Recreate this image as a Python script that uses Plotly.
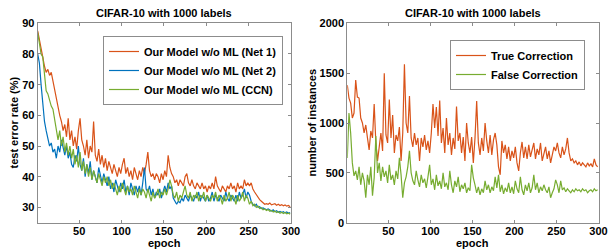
import plotly.graph_objects as go

# ---------------- data ----------------
epochs = list(range(1, 301, 2))

net1_err = [87.5, 85, 82, 79, 76, 74, 75, 73, 74, 71, 68, 65, 62, 60, 58, 55, 57, 53, 59, 52,
            55, 50, 53, 49, 55, 59, 52, 50, 47, 52, 46, 50, 48, 58, 47, 45, 49, 44, 47, 43,
            46, 42, 45, 43, 41, 44, 42, 40, 43, 41, 44, 46, 41, 43, 40, 42, 39, 43, 41, 39,
            42, 40, 43, 41, 44, 48, 42, 40, 41, 39, 41, 40, 38, 41, 39, 42, 40, 47, 43, 41,
            40, 38, 39, 37, 39, 38, 37, 40, 41, 38, 37, 39, 37, 36, 38, 37, 36, 38, 36, 37,
            35, 37, 36, 38, 36, 40, 37, 36, 35, 37, 36, 35, 37, 36, 38, 36, 37, 35, 38, 36,
            37, 36, 39, 37, 38, 37, 38, 36, 35, 34, 33, 32.5, 32, 31.5, 31, 31.2, 31, 31.4, 30.8, 31,
            31.2, 30.7, 31, 30.6, 30.9, 30.5, 30.8, 30.4, 30.6, 30.2]

net2_err = [80, 77, 70, 64, 58, 55, 52, 50, 51, 48, 49, 46, 50, 48, 52, 49, 47, 50, 46, 48,
            44, 43, 47, 45, 50, 44, 42, 46, 40, 44, 41, 45, 39, 42, 40, 38, 43, 40, 38, 41,
            39, 37, 40, 36, 38, 35, 39, 37, 35, 38, 36, 39, 35, 37, 34, 38, 36, 34, 37, 35,
            37, 34, 38, 43, 36, 35, 37, 34, 36, 33, 35, 34, 36, 33, 35, 37, 35, 38, 36, 37,
            33, 32, 31, 32, 31.5, 33, 32, 34, 33, 32, 34, 33, 32, 34, 33, 35, 32, 34, 33, 32,
            34, 32, 33, 35, 32, 34, 33, 32, 34, 33, 32, 35, 33, 32, 34, 33, 32, 34, 32, 35,
            33, 34, 36, 33, 35, 34, 32, 31, 30.5, 31, 30, 30.2, 29.6, 29.8, 29.4, 29.2, 29.5, 29, 28.8, 29.2,
            28.6, 28.9, 28.4, 28.7, 28.3, 28.6, 28.2, 28.5, 28.1, 28.3]

ccn_err = [87, 84, 80, 79, 73, 68, 67, 65, 63, 62, 59, 55, 52, 55, 50, 53, 48, 51, 47, 50,
           46, 49, 44, 47, 43, 48, 42, 45, 41, 44, 40, 43, 39, 42, 40, 38, 41, 39, 37, 40,
           38, 40, 37, 39, 36, 38, 36, 34, 37, 35, 38, 36, 34, 37, 35, 36, 34, 37, 35, 33,
           36, 34, 36, 35, 33, 36, 34, 32, 35, 33, 34, 36, 33, 35, 34, 36, 34, 36, 39, 37,
           34, 33, 35, 32, 34, 33, 35, 37, 34, 33, 35, 32, 34, 33, 35, 32, 34, 33, 35, 32,
           34, 33, 32, 34, 33, 35, 32, 34, 33, 31, 34, 32, 33, 35, 32, 34, 33, 31, 34, 32,
           33, 35, 32, 34, 33, 31, 32, 30.5, 31, 30, 30.4, 29.6, 29.9, 29.2, 29.5, 29, 29.3, 28.7, 29, 28.5,
           28.8, 28.3, 28.6, 28.1, 28.4, 28, 28.3, 27.9, 28.1, 27.8]

true_corr = [1380, 1250, 1200, 1050, 1100, 1430, 1260, 1250, 1050, 1000, 900, 980, 850, 730, 920, 850, 1190, 800, 620, 780,
             900, 720, 1500, 880, 800, 1235, 850, 1080, 700, 880, 820, 960, 620, 900, 1590, 1000, 900, 1270, 850, 760,
             900, 780, 850, 620, 850, 760, 880, 730, 820, 700, 900, 1190, 950, 1160, 870, 1225, 800, 950, 700, 1050,
             780, 900, 680, 850, 740, 1165, 820, 900, 700, 860, 620, 1000, 800, 700, 860, 600, 850, 1220, 800, 680,
             850, 720, 1000, 820, 700, 880, 680, 830, 900, 780, 560, 480, 820, 700, 780, 640, 760, 620, 720, 650,
             760, 600, 520, 700, 810, 650, 760, 640, 780, 660, 720, 800, 640, 740, 680, 800, 620, 700, 760, 640,
             720, 600, 680, 760, 720, 800, 700, 650, 760, 680, 740, 850, 700, 620, 640, 600, 620, 580, 610, 570,
             600, 580, 560, 600, 570, 590, 560, 640, 580, 560]

false_corr = [650, 1100, 900, 600, 470, 520, 430, 560, 380, 500, 420, 250, 480, 380, 560, 270, 450, 870, 500, 600,
              420, 560, 460, 520, 400, 580, 430, 480, 380, 520, 440, 650, 480, 250, 400, 460, 560, 720, 500, 420,
              380, 520, 430, 360, 480, 400, 440, 350, 460, 580, 380, 440, 330, 480, 370, 420, 340, 500, 360, 400,
              330, 520, 380, 300, 420, 360, 460, 310, 380, 340, 400, 300, 350, 320, 580, 450, 380, 300, 360, 280,
              340, 300, 420, 330, 380, 300, 360, 320, 460, 350, 480, 310, 380, 290, 350, 310, 400, 300, 360, 290,
              420, 340, 300, 460, 330, 280, 380, 320, 400, 300, 350, 480, 330, 400, 300, 360, 320, 380, 330, 300,
              360, 250, 300, 340, 430, 380, 300, 420, 330, 350, 310, 340, 320, 300, 330, 310, 340, 320, 330, 310,
              340, 320, 330, 300, 320, 330, 310, 340, 320, 330]

left_names = ["Our Model w/o ML (Net 1)", "Our Model w/o ML (Net 2)", "Our Model w/o ML (CCN)"]
right_names = ["True Correction", "False Correction"]
title_text = "CIFAR-10 with 1000 labels"
x_title = "epoch"
left_y_title = "test error rate (%)"
right_y_title = "number of instances"
x_ticks = [50, 100, 150, 200, 250, 300]
left_y_ticks = [30, 40, 50, 60, 70, 80, 90]
right_y_ticks = [0, 500, 1000, 1500, 2000]

ORANGE = "#D95319"
BLUE = "#0072BD"
GREEN = "#77AC30"
AXC = "#8c8c8c"
FONT = "Liberation Sans, Arial, sans-serif"

W, H = 608, 252


def px(x):
    return x / W


def py(y):
    return 1 - y / H


fig = go.Figure()
for vals, name, col in [(net1_err, left_names[0], ORANGE),
                        (net2_err, left_names[1], BLUE),
                        (ccn_err, left_names[2], GREEN)]:
    fig.add_trace(go.Scatter(x=epochs, y=vals, name=name, mode="lines",
                             line=dict(color=col, width=1.2),
                             xaxis="x", yaxis="y", legend="legend"))
for vals, name, col in [(true_corr, right_names[0], ORANGE),
                        (false_corr, right_names[1], GREEN)]:
    fig.add_trace(go.Scatter(x=epochs, y=vals, name=name, mode="lines",
                             line=dict(color=col, width=1.2),
                             xaxis="x2", yaxis="y2", legend="legend2"))

bold = dict(family=FONT, size=11, color="black", weight="bold")
axis_common = dict(showline=True, linecolor=AXC, linewidth=1, mirror="ticks",
                   ticks="inside", ticklen=3, tickcolor=AXC, showgrid=False,
                   zeroline=False, automargin=False, tickfont=bold,
                   ticklabeloverflow="allow")

xd1 = [px(37.7), px(291)]
xd2 = [px(347.3), px(598.5)]
ydom = [py(222.7), py(23.3)]


def ann(text, x, y, angle=0):
    return dict(text=text, x=x, y=y, xref="paper", yref="paper", showarrow=False,
                xanchor="center", yanchor="middle", textangle=angle, font=bold)


fig.update_layout(
    width=W, height=H,
    margin=dict(l=0, r=0, t=0, b=0),
    paper_bgcolor="white", plot_bgcolor="white",
    showlegend=True,
    xaxis=dict(domain=xd1, range=[1, 300], tickvals=x_ticks, anchor="y",
               ticklabelstandoff=-2, **axis_common),
    yaxis=dict(domain=ydom, range=[25, 90], tickvals=left_y_ticks, anchor="x", **axis_common),
    xaxis2=dict(domain=xd2, range=[1, 300], tickvals=x_ticks, anchor="y2",
                ticklabelstandoff=-2, **axis_common),
    yaxis2=dict(domain=ydom, range=[0, 2000], tickvals=right_y_ticks, anchor="x2", **axis_common),
    legend=dict(x=px(283), y=py(36), xanchor="right", yanchor="top",
                bgcolor="white", bordercolor=AXC, borderwidth=1,
                font=bold, tracegroupgap=0),
    legend2=dict(x=px(585), y=py(40), xanchor="right", yanchor="top",
                 bgcolor="white", bordercolor=AXC, borderwidth=1,
                 font=bold, tracegroupgap=0),
    annotations=[
        ann(title_text, sum(xd1) / 2, py(12.5)),
        ann(title_text, sum(xd2) / 2, py(12.5)),
        ann(x_title, sum(xd1) / 2, py(243)),
        ann(x_title, sum(xd2) / 2, py(243)),
        ann(left_y_title, px(13.5), sum(ydom) / 2, -90),
        ann(right_y_title, px(311.5), sum(ydom) / 2, -90),
    ],
)

# remove the browser's default 8px page margin so the figure fills the window
fig.write_html("out.html", config={"displayModeBar": False},
               post_script="document.body.style.margin='0';document.body.style.overflow='hidden';")
